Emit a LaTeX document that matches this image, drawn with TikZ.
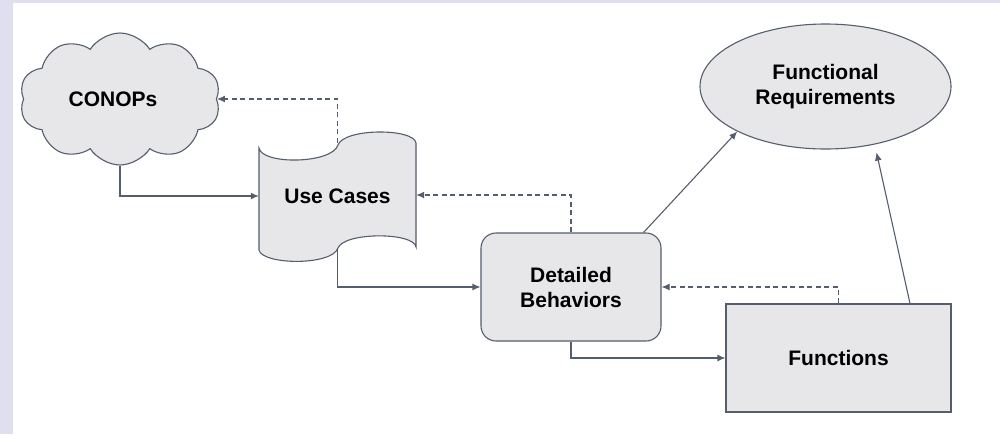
\documentclass[tikz,border=0pt]{standalone}
\usepackage{fontspec}
\setmainfont{Liberation Sans}
\usetikzlibrary{shapes.symbols,shapes.geometric,arrows.meta,calc}
\definecolor{lnc}{RGB}{85,94,110}
\definecolor{fillc}{RGB}{231,231,233}
\definecolor{lav}{RGB}{224,223,240}
\begin{document}
\begin{tikzpicture}[x=1pt,y=-1pt,
  shapeline/.style={draw=lnc,line width=1.1pt,fill=fillc},
  lbl/.style={font=\fontsize{21}{25}\selectfont\bfseries,align=center,text=black},
  conn/.style={draw=lnc,line width=1.1pt,-{Latex[length=8pt,width=7pt]}},
  dconn/.style={conn,dash pattern=on 5pt off 3.5pt}]
\useasboundingbox (0,0) rectangle (1000,434);
\fill[lav] (0,0) rectangle (1000,434);
\fill[white] (13,3) rectangle (1000,434);
% cloud
\node[shapeline,cloud,cloud puffs=10,cloud puff arc=115,aspect=1.55,
  minimum width=201pt,minimum height=132pt,inner sep=0pt,lbl] (conops) at (120,99) {\hspace*{-14pt}CONOPs};
% tape
\draw[shapeline] (259,148) .. controls (262,165) and (332,164) .. (338,145)
  .. controls (344,128) and (414,128) .. (416,143) -- (416,247)
  .. controls (414,232) and (344,232) .. (338,248)
  .. controls (332,266) and (262,265) .. (259,250) -- cycle;
\node[lbl,minimum width=157pt,minimum height=106pt,inner sep=0pt] (uc) at (337.5,196) {Use Cases};
% detailed behaviors
\node[shapeline,rounded corners=15pt,minimum width=180pt,minimum height=108pt,lbl] (db) at (571,287) {Detailed\\Behaviors};
% functions
\node[shapeline,minimum width=225pt,minimum height=108pt,lbl] (fn) at (838.5,358) {Functions};
% functional requirements
\node[shapeline,ellipse,minimum width=251pt,minimum height=125pt,inner sep=0pt,lbl] (fr) at (825.5,86.5) {Functional\\Requirements};
% connectors
\draw[conn] (conops.south) |- (uc.west);
\draw[dconn] (uc.north) |- (conops.east);
\draw[dconn] (db.north) |- ([yshift=1pt]uc.east);
\draw[conn] (uc.south) |- (db.west);
\draw[conn] (db.south) |- (fn.west);
\draw[dconn] (fn.north) |- (db.east);
\draw[conn] ([xshift=-18pt]db.north east) -- (fr.207);
\draw[conn] ([xshift=71.5pt]fn.north) -- ([xshift=51pt,yshift=-3pt]fr.south);
\end{tikzpicture}
\end{document}
